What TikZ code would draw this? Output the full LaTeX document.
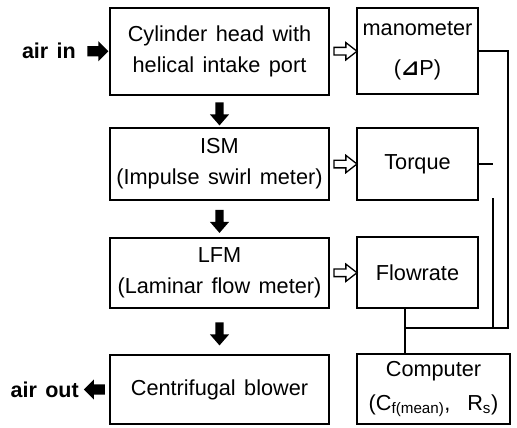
\documentclass[tikz,border=0pt]{standalone}
\usepackage{fontspec}
\setmainfont[WordSpace=1.4]{Liberation Sans}
\newfontfamily\dejavu{DejaVu Sans}
\usetikzlibrary{shapes.arrows,calc}
\tikzset{
  box/.style={draw, line width=2.4pt, inner sep=0pt, align=center,
    font=\fontsize{21.7}{31}\selectfont},
  conn/.style={line width=1.8pt},
  blockarrow/.style={single arrow, fill=black, draw=none, inner xsep=0pt,
    inner ysep=4pt, minimum width=0pt, minimum height=23pt,
    single arrow head extend=5.5pt, single arrow tip angle=82},
  inarrow/.style={single arrow, fill=black, draw=none, inner xsep=0pt,
    inner ysep=5pt, minimum width=0pt, minimum height=21pt,
    single arrow head extend=5pt, single arrow tip angle=90},
  hollowarrow/.style={single arrow, fill=white, draw=black, line width=1.3pt,
    inner xsep=0pt, inner ysep=3.2pt, minimum width=0pt, minimum height=23pt,
    single arrow head extend=4.8pt, single arrow tip angle=76},
  airlabel/.style={font=\bfseries\fontsize{21.5}{25}\selectfont, inner sep=0pt}
}
\begin{document}
\begin{tikzpicture}[x=1pt,y=-1pt]
\useasboundingbox (0,0) rectangle (517,428);
% left column
\node[box, minimum width=219pt, minimum height=87pt] (b1) at (219.5,51.5)
  {Cylinder head with\\helical intake port};
\node[box, minimum width=219pt, minimum height=72pt] (b2) at (219.5,164)
  {ISM\\(Impulse swirl meter)};
\node[box, minimum width=219pt, minimum height=70pt] (b3) at (219.5,273)
  {LFM\\(Laminar flow meter)};
\node[box, minimum width=219pt, minimum height=69pt] (b4) at (219.5,389.5)
  {Centrifugal blower};
% right column
\node[box, minimum width=121pt, minimum height=86pt,
  font=\fontsize{21.7}{40}\selectfont] (m) at (417.5,51)
  {manometer\\({\dejavu\bfseries ⊿}P)};
\node[box, minimum width=121pt, minimum height=72pt] (t) at (417.5,164) {Torque};
\node[box, minimum width=121pt, minimum height=71pt] (f) at (417.5,272.5) {Flowrate};
\node[box, minimum width=153pt, minimum height=70pt,
  font=\fontsize{21.7}{34}\selectfont] (c) at (433.5,389)
  {Computer\\(C\textsubscript{f(mean)},\ \ R\textsubscript{s})};
% air labels
\node[airlabel, anchor=east] (ain) at (76,51) {air in};
\node[airlabel, anchor=east] (aout) at (79,389.5) {air out};
% flow arrows
\path (ain.east) -- node[inarrow, pos=0.59] {} (b1.west);
\path (b4.west) -- node[inarrow, rotate=180, pos=0.40] {} (aout.east);
\path (b1.south) -- node[blockarrow, rotate=-90] {} (b2.north);
\path (b2.south) -- node[blockarrow, rotate=-90] {} (b3.north);
\path (b3.south) -- node[blockarrow, rotate=-90] {} (b4.north);
% signal arrows
\path (b1.east) -- node[hollowarrow] {} (m.west);
\path (b2.east) -- node[hollowarrow] {} (t.west);
\path (b3.east) -- node[hollowarrow] {} (f.west);
% wiring
\coordinate (j) at (405,328);
\coordinate (r1) at (508,328);
\coordinate (tk) at (493,164);
\coordinate (tv) at (493,198);
\draw[conn] (m.east) -| (r1) -- (j);
\draw[conn] (t.east) -- (tk);
\draw[conn] (tv) -- (tv |- j);
\draw[conn] (f.south -| j) -- (c.north -| j);
\end{tikzpicture}
\end{document}
